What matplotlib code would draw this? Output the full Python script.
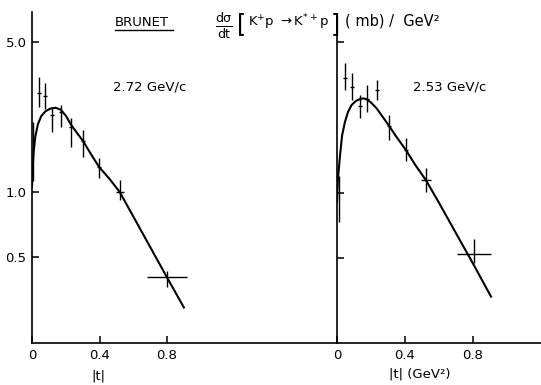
import numpy as np
import matplotlib
matplotlib.use("Agg")
import matplotlib.pyplot as plt
from matplotlib.lines import Line2D

plt.rcParams["font.family"] = ["DejaVu Sans"]
plt.rcParams["mathtext.default"] = "regular"

# ---- 2.72 GeV/c (left panel) ----
t_272 = [0.006, 0.041, 0.075, 0.119, 0.170, 0.233, 0.302, 0.397, 0.520, 0.800]
y_272 = [1.55, 2.88, 2.80, 2.28, 2.37, 2.01, 1.72, 1.31, 1.00, 0.40]
lo_272 = [1.12, 2.50, 2.45, 1.91, 2.02, 1.63, 1.46, 1.16, 0.92, 0.36]
hi_272 = [2.13, 3.45, 3.23, 2.50, 2.54, 2.21, 1.94, 1.44, 1.14, 0.43]
dt_272 = [0.0, 0.012, 0.012, 0.012, 0.012, 0.012, 0.012, 0.012, 0.025, 0.117]

curve_t_272 = [0.000, 0.004, 0.010, 0.020, 0.035, 0.055, 0.080, 0.110, 0.140,
               0.170, 0.200, 0.233, 0.270, 0.302, 0.350, 0.397, 0.460, 0.520,
               0.600, 0.700, 0.800, 0.900]
curve_y_272 = [1.05, 1.30, 1.55, 1.82, 2.07, 2.26, 2.38, 2.45, 2.47,
               2.42, 2.27, 2.05, 1.87, 1.73, 1.50, 1.31, 1.15, 1.00,
               0.77, 0.555, 0.40, 0.29]

# ---- 2.53 GeV/c (right panel) ----
t_253 = [0.010, 0.047, 0.086, 0.135, 0.175, 0.233, 0.306, 0.406, 0.522, 0.806]
y_253 = [0.98, 3.41, 3.11, 2.53, 2.72, 3.01, 2.05, 1.58, 1.15, 0.521]
lo_253 = [0.73, 3.01, 2.70, 2.22, 2.38, 2.70, 1.76, 1.40, 1.01, 0.472]
hi_253 = [1.20, 4.00, 3.59, 2.85, 3.17, 3.35, 2.30, 1.79, 1.31, 0.61]
dt_253 = [0.0, 0.012, 0.012, 0.012, 0.012, 0.012, 0.012, 0.012, 0.030, 0.100]

curve_t_253 = [0.000, 0.005, 0.018, 0.030, 0.047, 0.065, 0.086, 0.110, 0.135,
               0.155, 0.175, 0.200, 0.233, 0.270, 0.306, 0.350, 0.406, 0.460,
               0.522, 0.600, 0.700, 0.800, 0.880, 0.906]
curve_y_253 = [0.91, 1.15, 1.50, 1.85, 2.14, 2.38, 2.56, 2.67, 2.73,
               2.75, 2.72, 2.63, 2.47, 2.25, 2.05, 1.82, 1.58, 1.35,
               1.15, 0.90, 0.65, 0.47, 0.36, 0.33]

xticks = [0, 0.4, 0.8]
xticklabels = ["0", "0.4", "0.8"]
yticks = [0.5, 1.0, 5.0]
yticklabels = ["0.5", "1.0", "5.0"]

W, H = 541, 385
fig = plt.figure(figsize=(W / 100, H / 100), dpi=100)

# axes placed in pixel terms of the reference
ax1 = fig.add_axes([32 / W, (H - 343) / H, (337 - 32) / W, (343 - 12) / H])
ax2 = fig.add_axes([337 / W, (H - 343) / H, (W - 337) / W, (343 - 33) / H])


def draw_panel(ax, t, y, lo, hi, dt, ct, cy, xmax, ylim):
	y = np.array(y)
	yerr = [y - np.array(lo), np.array(hi) - y]
	ax.errorbar(t, y, yerr=yerr, xerr=dt, fmt="none", ecolor="k",
				elinewidth=1.0, capsize=0)
	ax.plot(ct, cy, color="k", lw=1.5)
	ax.set_yscale("log")
	ax.set_xlim(0, xmax)
	ax.set_ylim(*ylim)
	for s in ["top", "right"]:
		ax.spines[s].set_visible(False)
	for s in ["left", "bottom"]:
		ax.spines[s].set_linewidth(1.2)
	ax.set_xticks(xticks)
	ax.set_xticklabels(xticklabels)
	ax.set_yticks(yticks)
	ax.yaxis.set_minor_locator(matplotlib.ticker.NullLocator())
	ax.tick_params(direction="in", length=5, width=1.1, labelsize=9.5, pad=4)


draw_panel(ax1, t_272, y_272, lo_272, hi_272, dt_272, curve_t_272, curve_y_272,
		   (337 - 32) / 168.75, (0.198, 6.90))
draw_panel(ax2, t_253, y_253, lo_253, hi_253, dt_253, curve_t_253, curve_y_253,
		   (W - 337) / 170, (0.201, 5.53))

ax1.set_yticklabels(yticklabels)
ax2.set_yticklabels([])

ax1.text(0.48, 3.08, "2.72 GeV/c", fontsize=9.5, va="center")
ax2.text(0.447, 3.10, "2.53 GeV/c", fontsize=9.5, va="center")

ax1.set_xlabel("|t|", fontsize=9.5)
ax1.xaxis.set_label_coords((98 - 32) / (337 - 32), -0.079)
ax2.set_xlabel("|t| (GeV²)", fontsize=9.5)
ax2.xaxis.set_label_coords((420 - 337) / (W - 337), -0.080)

# header
fig.text(115 / W, (H - 23) / H, "BRUNET", fontsize=9.5, va="center", ha="left")
fig.add_artist(Line2D([115 / W, 173 / W], [(H - 30) / H] * 2, color="k", lw=1.0))

# header formula, laid out piece by piece from left to right
pieces = [
	(r"$\frac{d\sigma}{dt}$", 13, 26, 0),
	("[", 17, 24, 4),
	(r"$K^{+}p\ \rightarrow K^{*+}p$", 9.5, 22, 2),
	("]", 17, 24, 2),
	("( mb) /  GeV²", 10.5, 21, 5),
]
renderer = fig.canvas.get_renderer()
x = 215
for s, size, yc, gap in pieces:
	x += gap
	txt = fig.text(x / W, (H - yc) / H, s, fontsize=size, va="center", ha="left")
	x = txt.get_window_extent(renderer).x1

fig.savefig("out.png", dpi=100)
